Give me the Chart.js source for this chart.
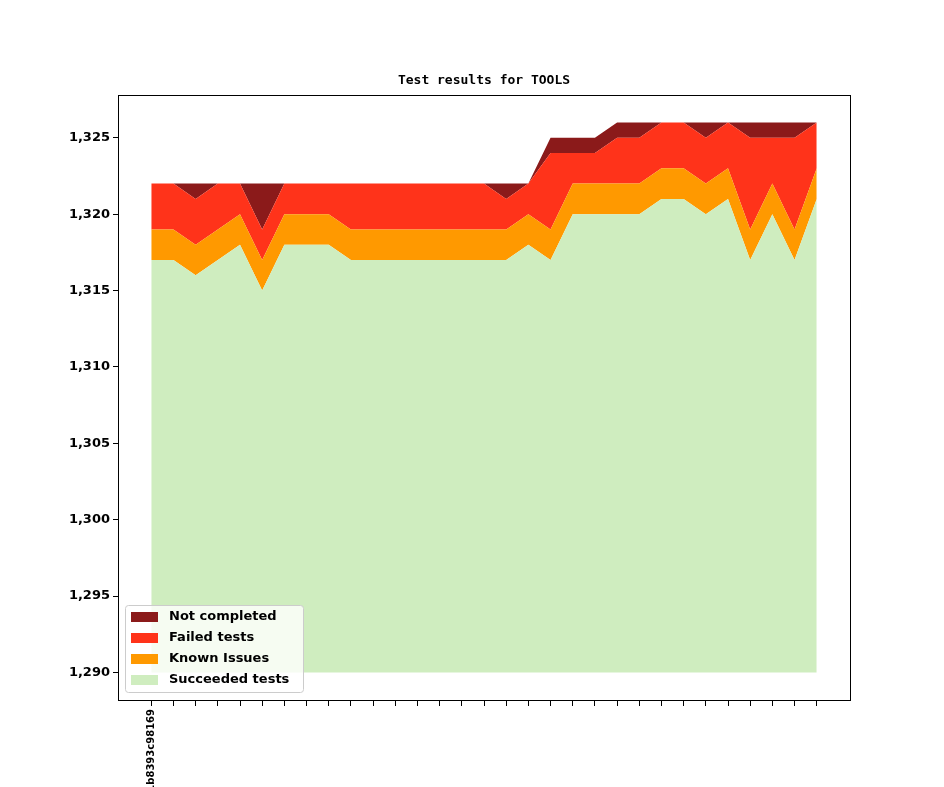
<!DOCTYPE html>
<html>
<head>
<meta charset="utf-8">
<script src="https://cdn.jsdelivr.net/npm/chart.js@4"></script>
<style>body{margin:0;background:#fff}</style>
</head>
<body>
<canvas id="c" width="944" height="787"></canvas>
<script>
const labels = ['1b8393c98169'];
const succeeded = [1317,1317,1316,1317,1318,1315,1318,1318,1318,1317,1317,1317,1317,1317,1317,1317,1317,1318,1317,1320,1320,1320,1320,1321,1321,1320,1321,1317,1320,1317,1321];
const known     = [2,2,2,2,2,2,2,2,2,2,2,2,2,2,2,2,2,2,2,2,2,2,2,2,2,2,2,2,2,2,2];
const failed    = [3,3,3,3,2,2,2,2,2,3,3,3,3,3,3,3,2,2,5,2,2,3,3,3,3,3,3,6,3,6,3];
const notDone   = [0,0,1,0,0,3,0,0,0,0,0,0,0,0,0,0,1,0,1,1,1,1,1,0,0,1,0,1,1,1,0];

const pts = arr => arr.map((v,i)=>({x:i,y:v}));
const boldFont = {family:'DejaVu Sans', size:13, weight:'bold'};

const overlay = {
  id:'overlay',
  afterDraw(chart){
    const ctx = chart.ctx, a = chart.chartArea;
    ctx.save();
    ctx.strokeStyle = '#000'; ctx.lineWidth = 1;
    ctx.strokeRect(a.left+0.5, a.top+0.5, a.right-a.left, a.bottom-a.top);
    ctx.fillStyle = '#000';
    ctx.font = 'bold 13px "DejaVu Sans Mono"';
    ctx.textAlign = 'center'; ctx.textBaseline = 'middle';
    ctx.fillText('Test results for TOOLS', (a.left+a.right)/2, 81);
    // legend
    const items = chart.data.datasets.slice().reverse();
    ctx.fillStyle = 'rgba(255,255,255,0.8)';
    ctx.strokeStyle = '#ccc';
    ctx.beginPath(); ctx.roundRect(125.5, 605.5, 178, 87, 3); ctx.fill(); ctx.stroke();
    ctx.font = 'bold 13px "DejaVu Sans"';
    ctx.textAlign = 'left';
    items.forEach((d,i)=>{
      const y = 617 + i*21;
      ctx.fillStyle = d.backgroundColor;
      ctx.fillRect(131, y-5, 27, 10);
      ctx.fillStyle = '#000';
      ctx.fillText(d.label, 169, y);
    });
    ctx.restore();
  }
};

new Chart(document.getElementById('c'), {
  type:'line',
  data:{datasets:[
    {label:'Succeeded tests', data:pts(succeeded), backgroundColor:'#cfedbf', fill:{value:1290}},
    {label:'Known Issues', data:pts(known), backgroundColor:'#ff9900', fill:'-1'},
    {label:'Failed tests', data:pts(failed), backgroundColor:'#ff331a', fill:'-1'},
    {label:'Not completed', data:pts(notDone), backgroundColor:'#8b1a1a', fill:'-1'}
  ]},
  options:{
    responsive:false, animation:false,
    elements:{point:{radius:0}, line:{borderWidth:0, tension:0}},
    layout:{padding:{top:95, right:94, left:0, bottom:0}},
    plugins:{legend:{display:false}, tooltip:{enabled:false}},
    scales:{
      x:{type:'linear', min:-1.5, max:31.5,
        afterFit(s){ s.height = 87; },
        afterBuildTicks(s){ s.ticks = Array.from({length:31},(_,i)=>({value:i})); },
        grid:{drawOnChartArea:false, color:'#000', tickLength:6},
        border:{display:false},
        ticks:{autoSkip:false, maxRotation:90, minRotation:90, color:'#000',
          font:{family:'DejaVu Sans', size:10, weight:'bold'},
          callback:(v)=> v===0 ? labels[0] : ''}
      },
      y:{stacked:true, min:1288.2, max:1327.8,
        afterFit(s){ s.width = 118; },
        afterBuildTicks(s){ s.ticks = [1290,1295,1300,1305,1310,1315,1320,1325].map(v=>({value:v})); },
        grid:{drawOnChartArea:false, color:'#000', tickLength:5},
        border:{display:false},
        ticks:{color:'#000', font:boldFont}
      }
    }
  },
  plugins:[overlay]
});
</script>
</body>
</html>
